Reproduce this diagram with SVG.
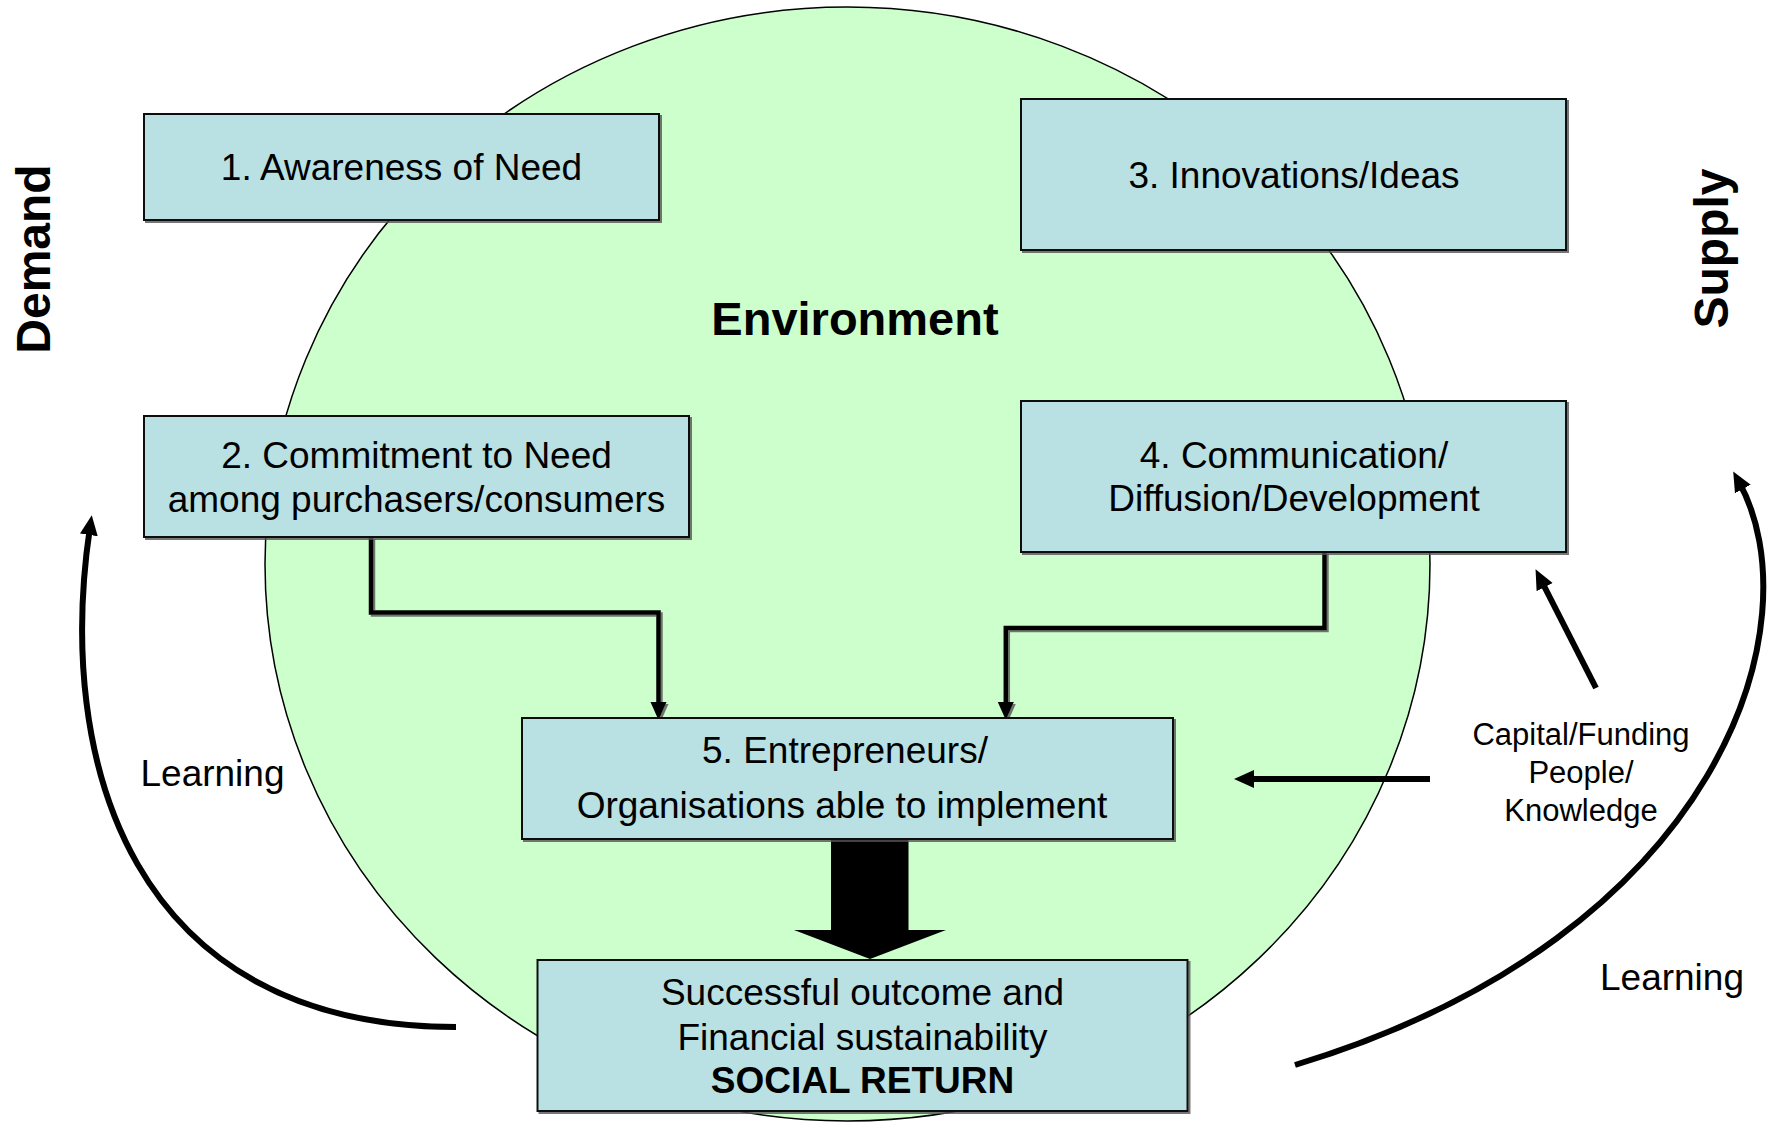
<svg xmlns="http://www.w3.org/2000/svg" width="1769" height="1124" viewBox="0 0 1769 1124">
<style>
  text { font-family: "Liberation Sans", Arial, sans-serif; fill: #000; }
  .box { fill: #B9E0E3; stroke: #111; stroke-width: 2; }
  .lbl { font-size: 37px; text-anchor: middle; }
  .side { font-size: 48px; font-weight: bold; text-anchor: middle; }
  .conn { fill: none; stroke: #000; stroke-width: 4.5; }
  .thick { fill: none; stroke: #000; stroke-width: 6; }
</style>
<defs>
  <filter id="sh" x="-5%" y="-5%" width="110%" height="110%">
    <feDropShadow dx="2" dy="2" stdDeviation="0.6" flood-color="#555" flood-opacity="0.8"/>
  </filter>
  <marker id="ah" markerUnits="userSpaceOnUse" markerWidth="20" markerHeight="18" refX="8" refY="8" orient="auto">
    <path d="M0,0 L18,8 L0,16 z" fill="#000"/>
  </marker>
  <marker id="ahL" markerUnits="userSpaceOnUse" markerWidth="22" markerHeight="20" refX="8" refY="9" orient="auto">
    <path d="M0,0 L20,9 L0,18 z" fill="#000"/>
  </marker>
</defs>

<g id="environment">
  <ellipse cx="847.5" cy="564" rx="582.5" ry="557" fill="#CCFFCC" stroke="#000" stroke-width="1.5"/>
  <text x="855" y="335" font-size="47" font-weight="bold" text-anchor="middle">Environment</text>
</g>

<g id="demand-label"><text class="side" transform="translate(50,259) rotate(-90)">Demand</text></g>
<g id="supply-label"><text class="side" transform="translate(1728,248.5) rotate(-90)">Supply</text></g>

<g id="connectors">
  <path class="conn" filter="url(#sh)" d="M371,220 V408" marker-end="url(#ah)"/>
  <path class="conn" filter="url(#sh)" d="M1294,250 V393" marker-end="url(#ah)"/>
  <path class="conn" filter="url(#sh)" d="M371,537 V612.5 H658.5 V710" marker-end="url(#ah)"/>
  <path class="conn" filter="url(#sh)" d="M1324.5,552 V628 H1005.8 V710" marker-end="url(#ah)"/>
  <path class="thick" d="M1430,779 H1246" marker-end="url(#ahL)"/>
  <path class="thick" d="M1596,688 L1541,580" marker-end="url(#ahL)"/>
  <path class="thick" d="M456,1027 C130,1027 55,760 90,527" marker-end="url(#ahL)"/>
  <path class="thick" d="M1295,1065 C1725,935 1815,620 1739,482" marker-end="url(#ahL)"/>
  <polygon points="831,839 908.5,839 908.5,930 946,930 870,959 794,930 831,930" fill="#000"/>
</g>

<g id="node1">
  <rect class="box" filter="url(#sh)" x="144" y="114" width="515" height="106"/>
  <text class="lbl" x="401.5" y="180">1. Awareness of Need</text>
</g>
<g id="node2">
  <rect class="box" filter="url(#sh)" x="144" y="416" width="545" height="121"/>
  <text class="lbl" x="416.5" y="468">2. Commitment to Need</text>
  <text class="lbl" x="416.5" y="512">among purchasers/consumers</text>
</g>
<g id="node3">
  <rect class="box" filter="url(#sh)" x="1021" y="99" width="545" height="151"/>
  <text class="lbl" x="1294" y="188">3. Innovations/Ideas</text>
</g>
<g id="node4">
  <rect class="box" filter="url(#sh)" x="1021" y="401" width="545" height="151"/>
  <text class="lbl" x="1294" y="468">4. Communication/</text>
  <text class="lbl" x="1294" y="511">Diffusion/Development</text>
</g>
<g id="node5">
  <rect class="box" filter="url(#sh)" x="522" y="718" width="651" height="121"/>
  <text class="lbl" x="845" y="763">5. Entrepreneurs/</text>
  <text class="lbl" x="842" y="818">Organisations able to implement</text>
</g>
<g id="node6">
  <rect class="box" filter="url(#sh)" x="537.5" y="960" width="650" height="151"/>
  <text class="lbl" x="862.5" y="1005">Successful outcome and</text>
  <text class="lbl" x="862.5" y="1050">Financial sustainability</text>
  <text class="lbl" x="862.5" y="1093" font-weight="bold">SOCIAL RETURN</text>
</g>

<g id="resources">
  <text x="1581" y="745" font-size="31" text-anchor="middle">Capital/Funding</text>
  <text x="1581" y="783" font-size="31" text-anchor="middle">People/</text>
  <text x="1581" y="821" font-size="31" text-anchor="middle">Knowledge</text>
</g>
<g id="learning-left"><text x="212.5" y="786" font-size="37" text-anchor="middle">Learning</text></g>
<g id="learning-right"><text x="1672" y="990" font-size="37" text-anchor="middle">Learning</text></g>
</svg>
